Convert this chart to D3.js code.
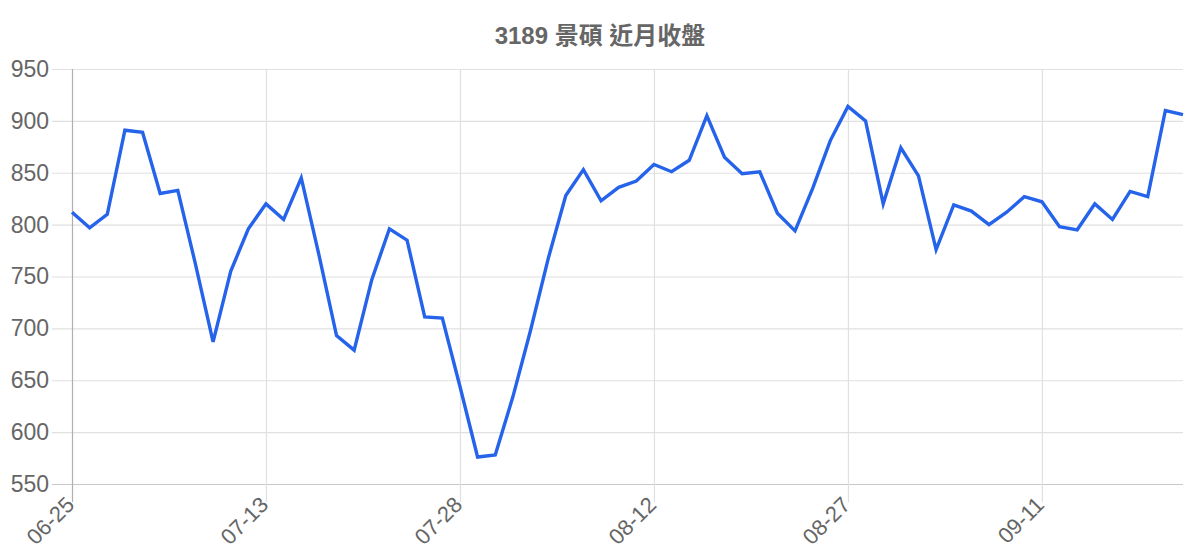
<!DOCTYPE html>
<html><head><meta charset="utf-8">
<script src="https://cdn.jsdelivr.net/npm/d3@7"></script>
<style>
html,body{margin:0;padding:0;background:#fff;}
svg{display:block;font-family:"Liberation Sans","Noto Sans CJK TC",Arial,sans-serif;}
</style></head>
<body>
<svg id="chart" width="1200" height="560"></svg>
<script>
const title = "3189 景碩 近月收盤";
const dates = ["06-25","06-28","06-29","06-30","07-01","07-02","07-05","07-06","07-07","07-08","07-09",
  "07-13","07-14","07-15","07-16","07-19","07-20","07-21","07-22","07-23","07-26","07-27",
  "07-28","07-29","07-30","08-02","08-03","08-04","08-05","08-06","08-09","08-10","08-11",
  "08-12","08-13","08-16","08-17","08-18","08-19","08-20","08-23","08-24","08-25","08-26",
  "08-27","08-30","08-31","09-01","09-02","09-03","09-06","09-07","09-08","09-09","09-10",
  "09-11","09-13","09-14","09-15","09-16","09-17","09-22","09-23","09-24"];
const closes = [812,797,810,891,889,830,833,762,687,755,796,
  820,805,845,771,693,679,747,796,785,711,710,
  644,576,578,634,698,767,828,853,823,836,842,
  858,851,862,905,865,849,851,811,794,835,881,
  914,900,820,874,847,776,819,813,800,812,827,
  822,798,795,820,805,832,827,910,906];
const yTicks = [550,600,650,700,750,800,850,900,950];
const labelEvery = 11;

(function draw() {
const svg = d3.select("#chart");
const mLeft = 72, mRight = 1183, mTop = 69, mBottom = 484;

const x = d3.scalePoint().domain(dates).range([mLeft, mRight]);
const y = d3.scaleLinear().domain([550, 950]).range([mBottom, mTop]);

// title
svg.append("text")
  .attr("x", 600).attr("y", 44)
  .attr("text-anchor", "middle")
  .attr("fill", "#666")
  .attr("font-size", 24)
  .attr("font-weight", "bold")
  .text(title);

// horizontal grid + y labels
const yAxis = svg.append("g").attr("transform", `translate(${mLeft},0)`)
  .call(d3.axisLeft(y).tickValues(yTicks).tickSizeInner(-(mRight - mLeft)).tickSizeOuter(0).tickPadding(3));
yAxis.select(".domain").remove();
yAxis.selectAll(".tick line")
  .attr("x1", -(mLeft - 52))
  .attr("stroke", d => d === 550 ? "#c8c8c8" : "#e0e0e0")
  .attr("stroke-width", 1.2);
yAxis.selectAll(".tick text")
  .attr("x", -(mLeft - 49))
  .attr("fill", "#666")
  .attr("font-size", 23)
  .attr("font-family", "Liberation Sans, Arial, sans-serif");

// vertical grid + x labels
const xTickVals = dates.filter((d, i) => i % labelEvery === 0);
const xAxis = svg.append("g").attr("transform", `translate(0,${mBottom})`)
  .call(d3.axisBottom(x).tickValues(xTickVals).tickSizeInner(-(mBottom - mTop)).tickSizeOuter(0));
xAxis.select(".domain").remove();
xAxis.selectAll(".tick line")
  .attr("y2", 18)
  .attr("y1", -(mBottom - mTop))
  .attr("stroke", (d, i) => i === 0 ? "#b0b0b0" : "#e0e0e0")
  .attr("stroke-width", 1.2);
xAxis.selectAll(".tick text")
  .attr("fill", "#666")
  .attr("font-size", 22)
  .attr("font-family", "Liberation Sans, Arial, sans-serif")
  .attr("text-anchor", "end")
  .attr("dy", null)
  .attr("transform", "translate(-1,18) rotate(-45)")
  .attr("x", 0).attr("y", 0)
  .attr("dominant-baseline", "middle");

// line
const line = d3.line()
  .x((d, i) => x(dates[i]))
  .y(d => y(d));
svg.append("path")
  .datum(closes)
  .attr("fill", "none")
  .attr("stroke", "#2563eb")
  .attr("stroke-width", 3.4)
  .attr("stroke-linejoin", "miter")
  .attr("d", line);
})();
</script>
</body></html>
